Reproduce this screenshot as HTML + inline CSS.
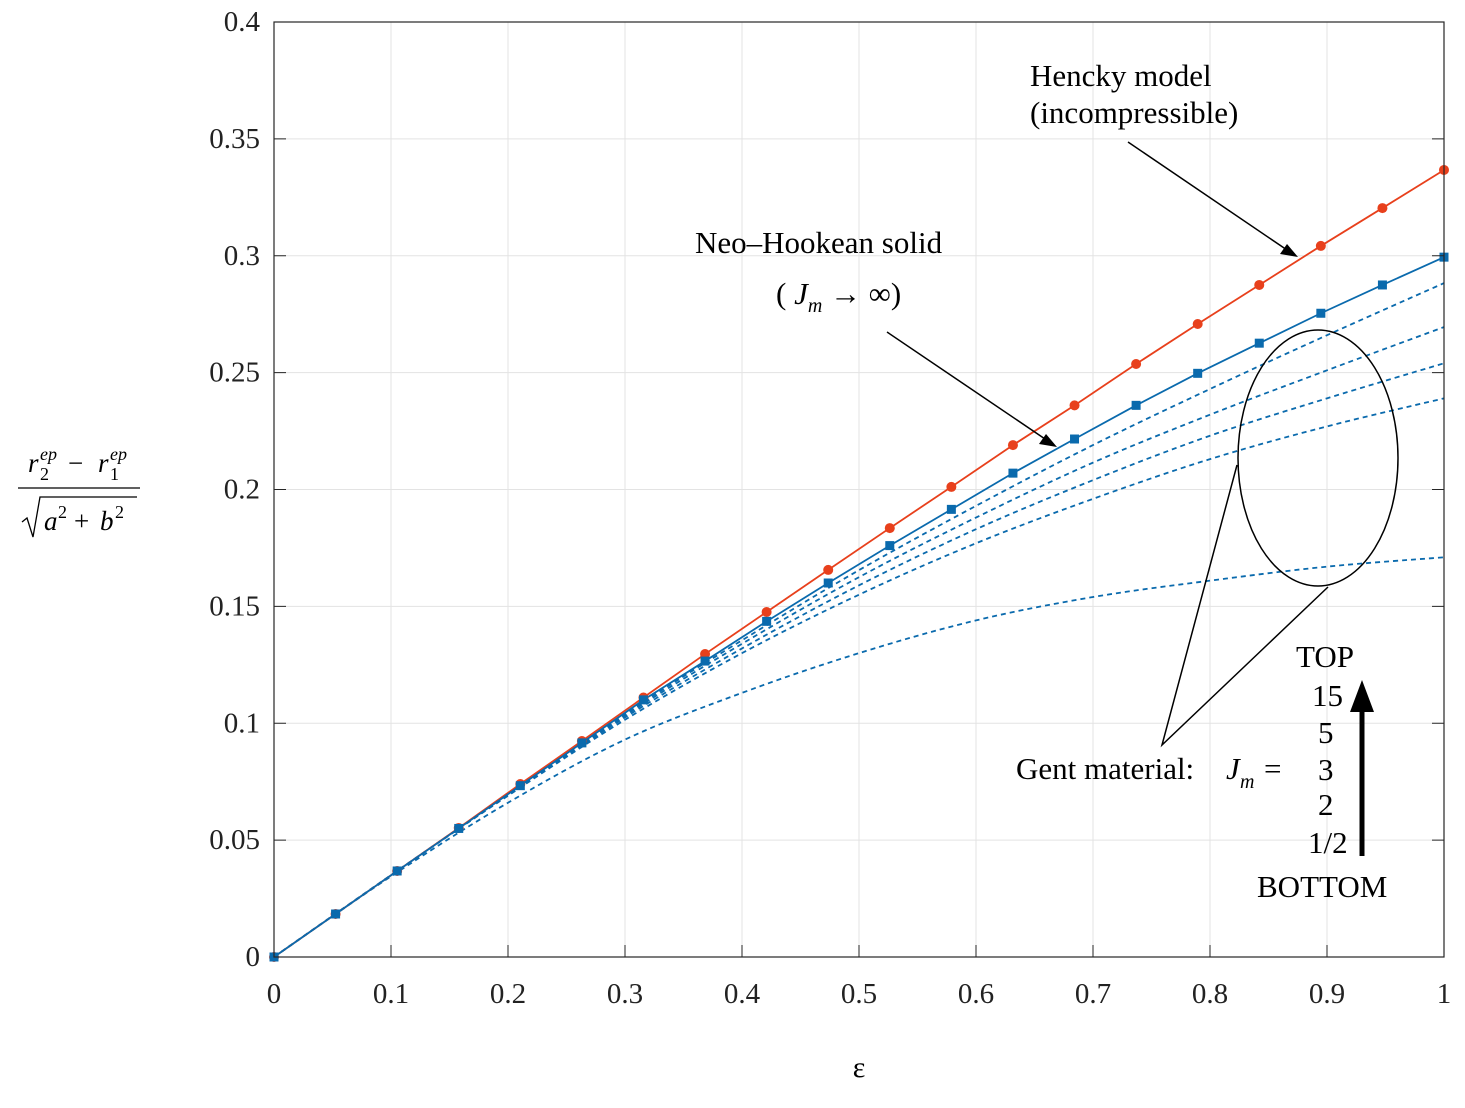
<!DOCTYPE html>
<html><head><meta charset="utf-8"><style>
body{margin:0;background:#fff}
svg{font-family:"Liberation Serif",serif}
</style></head><body>
<svg id="c" width="1465" height="1103" viewBox="0 0 1465 1103" xmlns="http://www.w3.org/2000/svg">
<rect width="1465" height="1103" fill="#fff"/>
<g id="grid"></g>
<g id="series"></g>
<rect x="274" y="22" width="1170" height="935" fill="none" stroke="#262626" stroke-width="1.2"/>
<g id="ticks" font-size="29" fill="#222"></g>
<text x="859" y="1077" font-size="30" text-anchor="middle">ε</text>
<g font-size="27" font-style="italic">
<text x="28" y="472">r</text><text x="40" y="480" font-size="18" font-style="normal">2</text><text x="40" y="460" font-size="18">ep</text>
<text x="68" y="472" font-style="normal">−</text>
<text x="98" y="472">r</text><text x="110" y="480" font-size="18" font-style="normal">1</text><text x="110" y="460" font-size="18">ep</text>
<line x1="18" y1="488" x2="140" y2="488" stroke="#000" stroke-width="1.3"/>
<path d="M22 522 L27 518 L33 537 L40 497 L137 497" fill="none" stroke="#000" stroke-width="1.3"/>
<text x="44" y="530">a</text><text x="58" y="518" font-size="18" font-style="normal">2</text>
<text x="74" y="530" font-style="normal">+</text>
<text x="100" y="530">b</text><text x="115" y="518" font-size="18" font-style="normal">2</text>
</g>
<g font-size="31" fill="#000">
<text x="1030" y="86">Hencky model</text>
<text x="1030" y="123">(incompressible)</text>
<line x1="1128" y1="142" x2="1290" y2="252" stroke="#000" stroke-width="1.5"/>
<polygon points="1298,257 1280,254 1287,244" fill="#000"/>
<text x="695" y="253">Neo–Hookean solid</text>
<text x="776" y="304">( <tspan font-style="italic">J</tspan><tspan font-size="20" font-style="italic" dy="8">m</tspan><tspan dy="-8"> → ∞)</tspan></text>
<line x1="887" y1="332" x2="1048" y2="441" stroke="#000" stroke-width="1.5"/>
<polygon points="1057,447 1039,444 1046,434" fill="#000"/>
<ellipse cx="1318" cy="458" rx="80" ry="128" fill="none" stroke="#000" stroke-width="1.5"/>
<polyline points="1237,465 1162,745 1328,587" fill="none" stroke="#000" stroke-width="1.5"/>
<text x="1016" y="779">Gent material:</text>
<text x="1226" y="779" font-style="italic">J</text><text x="1240" y="788" font-size="20" font-style="italic">m</text><text x="1264" y="779">=</text>
<text x="1296" y="667">TOP</text>
<text x="1312" y="706">15</text>
<text x="1318" y="743">5</text>
<text x="1318" y="780">3</text>
<text x="1318" y="815">2</text>
<text x="1308" y="853">1/2</text>
<text x="1257" y="897">BOTTOM</text>
<line x1="1362" y1="856" x2="1362" y2="705" stroke="#000" stroke-width="5"/>
<polygon points="1362,680 1350,712 1374,712" fill="#000"/>
</g>
</svg>
<script>
const xTicks=[0,0.1,0.2,0.3,0.4,0.5,0.6,0.7,0.8,0.9,1];
const xTickLabels=["0","0.1","0.2","0.3","0.4","0.5","0.6","0.7","0.8","0.9","1"];
const yTicks=[0,0.05,0.1,0.15,0.2,0.25,0.3,0.35,0.4];
const yTickLabels=["0","0.05","0.1","0.15","0.2","0.25","0.3","0.35","0.4"];
const markerX=[0,1,2,3,4,5,6,7,8,9,10,11,12,13,14,15,16,17,18,19].map(k=>k/19);
const hencky=[0,0.0184,0.0368,0.0552,0.074,0.0924,0.111,0.1296,0.1476,0.1656,0.1835,0.2011,0.219,0.236,0.2537,0.2708,0.2875,0.3042,0.3204,0.3367];
const neoHookean=[0,0.0184,0.0368,0.055,0.0733,0.0916,0.110,0.1266,0.1436,0.160,0.176,0.1915,0.207,0.2216,0.236,0.2497,0.2626,0.2754,0.2875,0.2994];
const gentX=[0,0.1,0.2,0.3,0.4,0.5,0.6,0.7,0.8,0.9,1];
const gent15=[0,0.035,0.0696,0.104,0.1355,0.1655,0.193,0.219,0.243,0.266,0.2883];
const gent5=[0,0.035,0.0694,0.1033,0.134,0.1625,0.188,0.2115,0.232,0.251,0.2695];
const gent3=[0,0.035,0.0692,0.1025,0.132,0.159,0.183,0.204,0.223,0.239,0.254];
const gent2=[0,0.035,0.069,0.1015,0.130,0.155,0.177,0.196,0.213,0.227,0.239];
const gentHalf=[0,0.0345,0.066,0.093,0.113,0.130,0.144,0.154,0.161,0.167,0.171];
const X=v=>274+v*1170, Y=v=>957-v*2337.5;
const NS="http://www.w3.org/2000/svg";
function mk(p,t,a){const e=document.createElementNS(NS,t);for(const k in a)e.setAttribute(k,a[k]);p.appendChild(e);return e;}
const grid=document.getElementById('grid'),ticks=document.getElementById('ticks'),ser=document.getElementById('series');
xTicks.forEach((v,i)=>{
 const g=mk(grid,'line',{x1:X(v),x2:X(v),y1:22,y2:957,stroke:'#e3e3e3','stroke-width':1});
 
 
 const t=mk(ticks,'line',{x1:X(v),x2:X(v),y1:957,y2:945,stroke:'#262626'});
 
 
 const l=mk(ticks,'text',{x:X(v),y:1003,'text-anchor':'middle'});l.textContent=xTickLabels[i];
 
 
});
yTicks.forEach((v,i)=>{
 const g=mk(grid,'line',{x1:274,x2:1444,y1:Y(v),y2:Y(v),stroke:'#e3e3e3','stroke-width':1});
 
 
 const t=mk(ticks,'line',{x1:274,x2:286,y1:Y(v),y2:Y(v),stroke:'#262626'});
 
 
 const t2=mk(ticks,'line',{x1:1432,x2:1444,y1:Y(v),y2:Y(v),stroke:'#262626'});
 
 
 const l=mk(ticks,'text',{x:260,y:Y(v)+9,'text-anchor':'end'});l.textContent=yTickLabels[i];
 
 
});
function smoothPath(xs,ys){
 const P=xs.map((x,i)=>[X(x),Y(ys[i])]);
 let d='M'+P[0][0]+' '+P[0][1];
 for(let i=0;i<P.length-1;i++){
  const p0=P[i-1]||P[i],p1=P[i],p2=P[i+1],p3=P[i+2]||P[i+1];
  const c1=[p1[0]+(p2[0]-p0[0])/6,p1[1]+(p2[1]-p0[1])/6];
  const c2=[p2[0]-(p3[0]-p1[0])/6,p2[1]-(p3[1]-p1[1])/6];
  d+=' C'+c1[0]+' '+c1[1]+' '+c2[0]+' '+c2[1]+' '+p2[0]+' '+p2[1];
 }
 return d;
}
function curve(xs,ys,color,dash,name){
 const p=mk(ser,'path',{d:smoothPath(xs,ys),fill:'none',stroke:color,'stroke-width':1.8,'stroke-dasharray':dash});
 
 
}
function line(xs,ys,color,name){
 const p=mk(ser,'polyline',{points:xs.map((x,i)=>X(x)+','+Y(ys[i])).join(' '),fill:'none',stroke:color,'stroke-width':1.8});
 
 
}
[[gentHalf,'gent-jm-half'],[gent2,'gent-jm-2'],[gent3,'gent-jm-3'],[gent5,'gent-jm-5'],[gent15,'gent-jm-15']].forEach(([d,n])=>curve(gentX,d,'#0a6aad','5,4',n));
line(markerX,hencky,'#e8401c','hencky-line');
line(markerX,neoHookean,'#0a6aad','neo-hookean-line');
hencky.forEach((v,i)=>{const m=mk(ser,'circle',{cx:X(markerX[i]),cy:Y(v),r:5,fill:'#e8401c'});
 
 });
neoHookean.forEach((v,i)=>{const m=mk(ser,'rect',{x:X(markerX[i])-4.5,y:Y(v)-4.5,width:9,height:9,fill:'#0a6aad'});
 
 });
</script>
</body></html>
